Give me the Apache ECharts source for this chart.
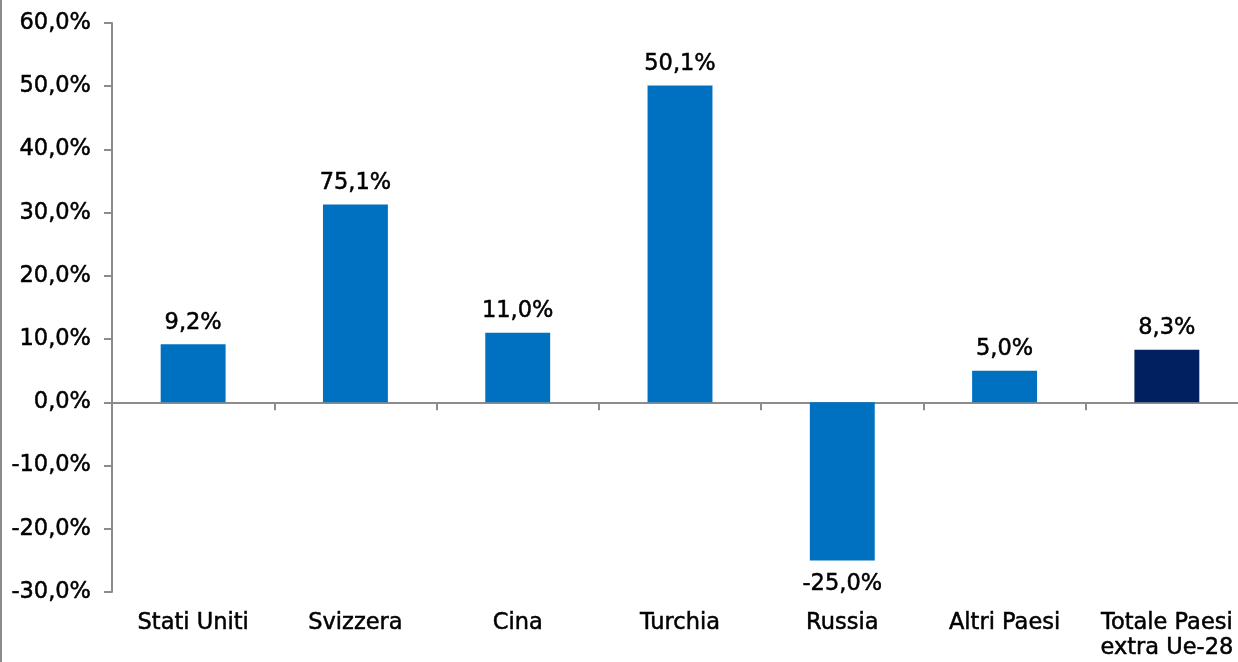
<!DOCTYPE html>
<html>
<head>
<meta charset="utf-8">
<script src="https://cdn.jsdelivr.net/npm/echarts@6/dist/echarts.min.js"></script>
<style>
html,body{margin:0;padding:0;background:#fff;}
#chart{width:1238px;height:662px;}
</style>
</head>
<body>
<div id="chart"></div>
<script>
const categories = ['Stati Uniti', 'Svizzera', 'Cina', 'Turchia', 'Russia', 'Altri Paesi', 'Totale Paesi\nextra Ue-28'];
const barValues = [9.2, 31.3, 11.0, 50.1, -25.0, 5.0, 8.3];
const barLabels = ['9,2%', '75,1%', '11,0%', '50,1%', '-25,0%', '5,0%', '8,3%'];
const barColors = ['#0070C0', '#0070C0', '#0070C0', '#0070C0', '#0070C0', '#0070C0', '#002060'];
const yTicks = { min: -30, max: 60, interval: 10 };

const FONT = 'DejaVu Sans';
const FS = 22.5;
const txt = { color: '#000', fontFamily: FONT, fontSize: FS, textBorderColor: '#000', textBorderWidth: 0.5 };
const chart = echarts.init(document.getElementById('chart'), null, { renderer: 'canvas' });

const data = barValues.map((v, i) => ({
  value: v,
  itemStyle: { color: barColors[i] },
  label: {
    position: v < 0 ? 'bottom' : 'top',
    distance: v < 0 ? 12 : 10,
    formatter: () => barLabels[i]
  }
}));

chart.setOption({
  animation: false,
  backgroundColor: '#fff',
  textStyle: { fontFamily: FONT },
  grid: { left: 112, width: 1136, top: 23, bottom: 70, containLabel: false, outerBoundsMode: 'none' },
  graphic: [{
    type: 'line', shape: { x1: 1, y1: 0, x2: 1, y2: 662 },
    style: { stroke: '#8c8c8c', lineWidth: 2 }
  }],
  xAxis: [{
    type: 'category',
    data: categories,
    position: 'bottom',
    axisLine: { show: false, onZero: false },
    axisTick: { show: false },
    axisLabel: Object.assign({ interval: 0, margin: 19, lineHeight: 25, verticalAlign: 'top' }, txt)
  }, {
    type: 'category',
    data: categories,
    position: 'bottom',
    axisLine: { show: true, onZero: true, lineStyle: { color: '#8c8c8c', width: 2 } },
    axisTick: { show: true, length: 8, lineStyle: { color: '#8c8c8c', width: 2 } },
    axisLabel: { show: false }
  }],
  yAxis: {
    type: 'value',
    min: yTicks.min, max: yTicks.max, interval: yTicks.interval,
    axisLine: { show: true, lineStyle: { color: '#8c8c8c', width: 2 } },
    axisTick: { show: true, length: 8, lineStyle: { color: '#8c8c8c', width: 2 } },
    splitLine: { show: false },
    axisLabel: Object.assign({ margin: 21, formatter: v => v.toFixed(1).replace('.', ',') + '%' }, txt)
  },
  series: [{
    type: 'bar',
    xAxisIndex: 0,
    data: data,
    barWidth: '40%',
    label: Object.assign({ show: true }, txt)
  }]
});
</script>
</body>
</html>
